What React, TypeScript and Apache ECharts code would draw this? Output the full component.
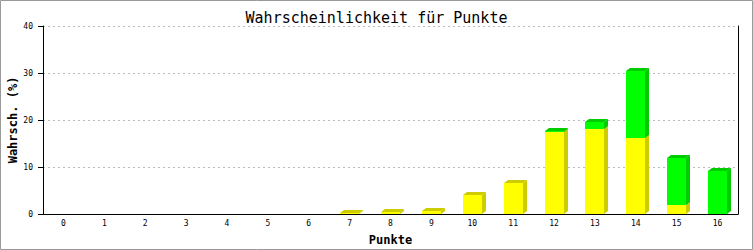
import React, { useEffect, useRef } from "react";
import * as echarts from "echarts";

const categories = ["0","1","2","3","4","5","6","7","8","9","10","11","12","13","14","15","16"];
const yellowValues = [0,0,0,0,0,0,0,0.2,0.4,0.7,4.1,6.7,17.5,18.1,16.2,1.9,0];
const greenValues = [0,0,0,0,0,0,0,0,0,0,0,0,0.2,1.5,14.2,10.0,9.1];
const yTicks = { min: 0, max: 40, interval: 10 };

const FONT = "'DejaVu Sans Mono', monospace";

function makeRender(front: string, dark: string) {
  return (params: any, api: any) => {
    const cat = api.value(0);
    const lo = api.value(1);
    const hi = api.value(2);
    if (hi - lo <= 0) return null;
    const band = api.size([1, 0])[0];
    const w = Math.round(band * 0.46);
    const dx = 4, dy = 3;
    const pb = api.coord([cat, lo]);
    const pt = api.coord([cat, hi]);
    const x0 = Math.round(pb[0] - w / 2);
    const y0 = Math.round(pb[1]);
    const y1 = Math.round(pt[1]);
    return {
      type: "group",
      children: [
        {
          type: "polygon",
          shape: { points: [[x0 + w, y1], [x0 + w + dx, y1 - dy], [x0 + w + dx, y0 - dy], [x0 + w, y0]] },
          style: { fill: dark },
        },
        {
          type: "polygon",
          shape: { points: [[x0, y1], [x0 + w, y1], [x0 + w + dx, y1 - dy], [x0 + dx, y1 - dy]] },
          style: { fill: dark },
        },
        {
          type: "rect",
          shape: { x: x0, y: y1, width: w, height: y0 - y1 },
          style: { fill: front },
        },
      ],
    };
  };
}

export default function App() {
  const ref = useRef<HTMLDivElement>(null);
  useEffect(() => {
    if (!ref.current) return;
    const chart = echarts.init(ref.current, null, { renderer: "svg" });
    const yellowData = categories.map((_, i) => [i, 0, yellowValues[i]]);
    const greenData = categories.map((_, i) => [i, yellowValues[i], yellowValues[i] + greenValues[i]]);
    chart.setOption({
      animation: false,
      backgroundColor: "#fff",
      title: {
        text: "Wahrscheinlichkeit für Punkte",
        left: "center",
        top: 5,
        textStyle: { fontFamily: FONT, fontSize: 15, fontWeight: "normal", color: "#000" },
      },
      grid: { left: 43, right: 15, top: 26, bottom: 36, containLabel: false, outerBoundsMode: "none" },
      xAxis: {
        type: "category",
        data: categories,
        name: "Punkte",
        nameLocation: "middle",
        nameGap: 20,
        nameMoveOverlap: false,
        nameTextStyle: { fontFamily: FONT, fontSize: 12, fontWeight: "bold", color: "#000" },
        axisLine: { lineStyle: { color: "#000", width: 1 } },
        axisTick: { show: false },
        axisLabel: { fontFamily: FONT, fontSize: 8, color: "#000", margin: 5 },
        splitLine: { show: false },
      },
      yAxis: [
        {
          type: "value",
          min: yTicks.min,
          max: yTicks.max,
          interval: yTicks.interval,
          name: "Wahrsch. (%)",
          nameLocation: "middle",
          nameGap: 24,
          nameMoveOverlap: false,
          nameTextStyle: { fontFamily: FONT, fontSize: 12, fontWeight: "bold", color: "#000" },
          axisLine: { show: true, lineStyle: { color: "#000", width: 1 } },
          axisTick: { show: true, length: 5, lineStyle: { color: "#000" } },
          axisLabel: { fontFamily: FONT, fontSize: 8, color: "#000", margin: 10 },
          splitLine: { show: true, lineStyle: { color: "#bbb", type: [2, 3] } },
        },
        {
          type: "value",
          position: "right",
          min: yTicks.min,
          max: yTicks.max,
          interval: yTicks.interval,
          axisLine: { show: true, lineStyle: { color: "#000", width: 1 } },
          axisTick: { show: false },
          axisLabel: { show: false },
          splitLine: { show: false },
        },
      ],
      graphic: [
        {
          type: "rect",
          shape: { x: 0.5, y: 0.5, width: 752, height: 249 },
          style: { fill: "none", stroke: "#999", lineWidth: 1 },
          silent: true,
        },
      ],
      series: [
        {
          type: "custom",
          renderItem: makeRender("#ffff00", "#cccc00"),
          data: yellowData,
          encode: { x: 0, y: [1, 2] },
        },
        {
          type: "custom",
          renderItem: makeRender("#00ff00", "#00cc00"),
          data: greenData,
          encode: { x: 0, y: [1, 2] },
        },
      ],
    });
    return () => chart.dispose();
  }, []);
  return (
    <div
      ref={ref}
      style={{ position: "absolute", left: 0, top: 0, width: 753, height: 250 }}
    />
  );
}
